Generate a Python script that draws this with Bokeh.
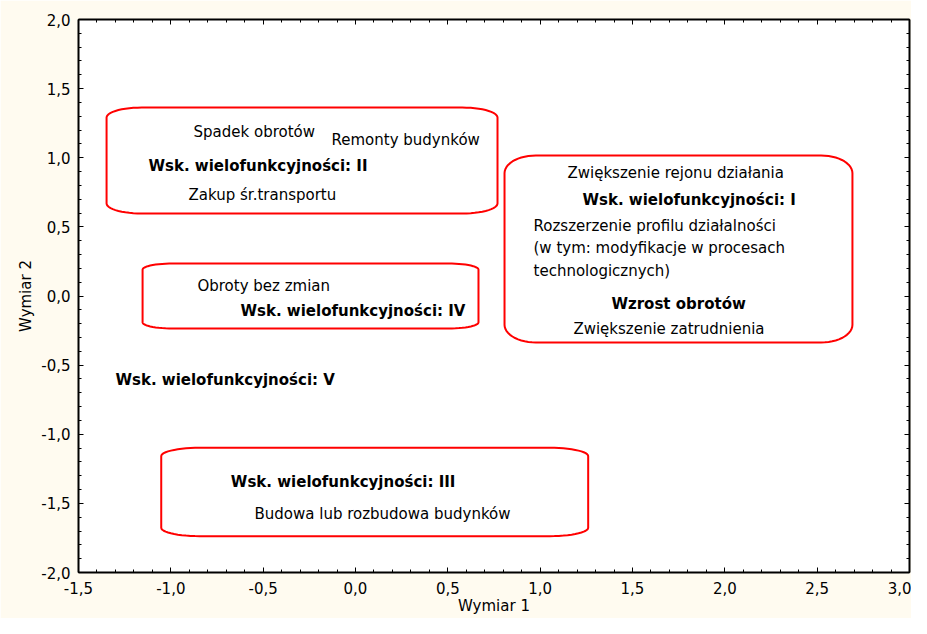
import numpy as np
from bokeh.plotting import figure
from bokeh.models import Range1d, LinearAxis, FixedTicker, CustomJSTickFormatter, ColumnDataSource
from bokeh.core.properties import value
from bokeh.embed import file_html
from bokeh.resources import INLINE

# ---- data ----
x_ticks = [-1.5, -1.0, -0.5, 0.0, 0.5, 1.0, 1.5, 2.0, 2.5, 3.0]
x_tick_labels = ["-1,5", "-1,0", "-0,5", "0,0", "0,5", "1,0", "1,5", "2,0", "2,5", "3,0"]
y_ticks = [-2.0, -1.5, -1.0, -0.5, 0.0, 0.5, 1.0, 1.5, 2.0]
y_tick_labels = ["-2,0", "-1,5", "-1,0", "-0,5", "0,0", "0,5", "1,0", "1,5", "2,0"]

regular_labels = ["Spadek obrotów", "Remonty budynków", "Zakup śr.transportu",
                  "Zwiększenie rejonu działania", "Rozszerzenie profilu działalności",
                  "(w tym: modyfikacje w procesach", "technologicznych)",
                  "Zwiększenie zatrudnienia", "Obroty bez zmian",
                  "Budowa lub rozbudowa budynków"]
regular_x = [-0.877, -0.130, -0.904, 1.148, 0.964, 0.964, 0.964, 1.180, -0.856, -0.547]
regular_y = [1.183, 1.128, 0.734, 0.893, 0.503, 0.344, 0.184, -0.242, 0.072, -1.580]

bold_labels = ["Wsk. wielofunkcyjności: II", "Wsk. wielofunkcyjności: I",
               "Wzrost obrotów", "Wsk. wielofunkcyjności: IV",
               "Wsk. wielofunkcyjności: V", "Wsk. wielofunkcyjności: III"]
bold_x = [-1.121, 1.229, 1.386, -0.623, -1.300, -0.675]
bold_y = [0.937, 0.691, -0.061, -0.112, -0.604, -1.342]

# cluster boxes (II, I, IV, III)
box_x0 = [-1.348, 0.807, -1.153, -1.052]
box_x1 = [0.769, 2.691, 0.666, 1.260]
box_y0 = [0.597, -0.336, -0.235, -1.737]
box_y1 = [1.363, 1.016, 0.235, -1.098]

x_label = "Wymiar 1"
y_label = "Wymiar 2"

FONT = "DejaVu Sans"
CREAM = "#fffbf0"


def rounded_box(x0, x1, y0, y1, fr=0.09, n=14):
    rx = fr * (x1 - x0)
    ry = fr * 1.05 * (y1 - y0)
    xs, ys = [], []
    corners = [(x1 - rx, y1 - ry, 0.0), (x0 + rx, y1 - ry, 0.5 * np.pi),
               (x0 + rx, y0 + ry, np.pi), (x1 - rx, y0 + ry, 1.5 * np.pi)]
    for cx, cy, a0 in corners:
        t = np.linspace(a0, a0 + 0.5 * np.pi, n)
        xs.extend(cx + rx * np.cos(t))
        ys.extend(cy + ry * np.sin(t))
    xs.append(xs[0]); ys.append(ys[0])
    return list(xs), list(ys)


p = figure(width=911, height=618, output_backend="svg", toolbar_location=None,
           x_range=Range1d(-1.5, 3.0), y_range=Range1d(-2.0, 2.0),
           x_axis_type=None, y_axis_type=None,
           min_border_left=78, min_border_right=2, min_border_top=19, min_border_bottom=46)
p.background_fill_color = "white"
p.border_fill_color = CREAM
p.outline_line_color = None

x_minor = [round(v, 2) for v in np.arange(-1.5, 3.0001, 0.1)]
y_minor = [round(v, 2) for v in np.arange(-2.0, 2.0001, 0.1)]
xt = FixedTicker(ticks=x_ticks, minor_ticks=x_minor)
yt = FixedTicker(ticks=y_ticks, minor_ticks=y_minor)


def style_axis(ax, show):
    ax.axis_line_width = 2
    ax.axis_line_color = "black"
    ax.major_tick_in = 5
    ax.major_tick_out = 0
    ax.minor_tick_in = 3
    ax.minor_tick_out = 0
    ax.major_tick_line_color = "black"
    ax.minor_tick_line_color = "black"
    ax.major_label_text_font = FONT
    ax.major_label_text_font_size = "15px"
    ax.major_label_text_color = "black"
    ax.axis_label_text_font = FONT
    ax.axis_label_text_font_size = "15px"
    ax.axis_label_text_font_style = "normal"
    ax.axis_label_text_color = "black"
    if not show:
        ax.formatter = CustomJSTickFormatter(code="return ''")
        ax.major_label_standoff = 0


xb = LinearAxis(ticker=xt, axis_label=x_label)
style_axis(xb, True)
xb.major_label_overrides = dict(zip(x_ticks, x_tick_labels))
xb.major_label_standoff = 9
xb.axis_label_standoff = 0
p.add_layout(xb, "below")

yl = LinearAxis(ticker=yt, axis_label=y_label)
style_axis(yl, True)
yl.major_label_overrides = dict(zip(y_ticks, y_tick_labels))
yl.major_label_standoff = 8
yl.axis_label_standoff = 3
p.add_layout(yl, "left")

xtop = LinearAxis(ticker=xt)
style_axis(xtop, False)
p.add_layout(xtop, "above")

yr = LinearAxis(ticker=yt)
style_axis(yr, False)
p.add_layout(yr, "right")

p.xgrid.ticker = xt
p.ygrid.ticker = yt
for g in (p.xgrid, p.ygrid):
    g.grid_line_color = "#c8c8c8"
    g.grid_line_dash = "2 2"
    g.grid_line_width = 1

# boxes
bxs, bys = [], []
for a, b, c, d in zip(box_x0, box_x1, box_y0, box_y1):
    xs, ys = rounded_box(a, b, c, d)
    bxs.append(xs); bys.append(ys)
p.patches(bxs, bys, fill_color=None, line_color="#ff0000", line_width=2)

src_r = ColumnDataSource(dict(x=regular_x, y=regular_y, t=regular_labels))
p.text(x="x", y="y", text="t", source=src_r, text_font=value(FONT), text_font_size="15px",
       text_align="left", text_baseline="middle", text_color="black")
src_b = ColumnDataSource(dict(x=bold_x, y=bold_y, t=bold_labels))
p.text(x="x", y="y", text="t", source=src_b, text_font=value(FONT), text_font_size="15px",
       text_font_style="bold", text_align="left", text_baseline="middle", text_color="black")

open("out.html", "w").write(file_html(p, INLINE))
